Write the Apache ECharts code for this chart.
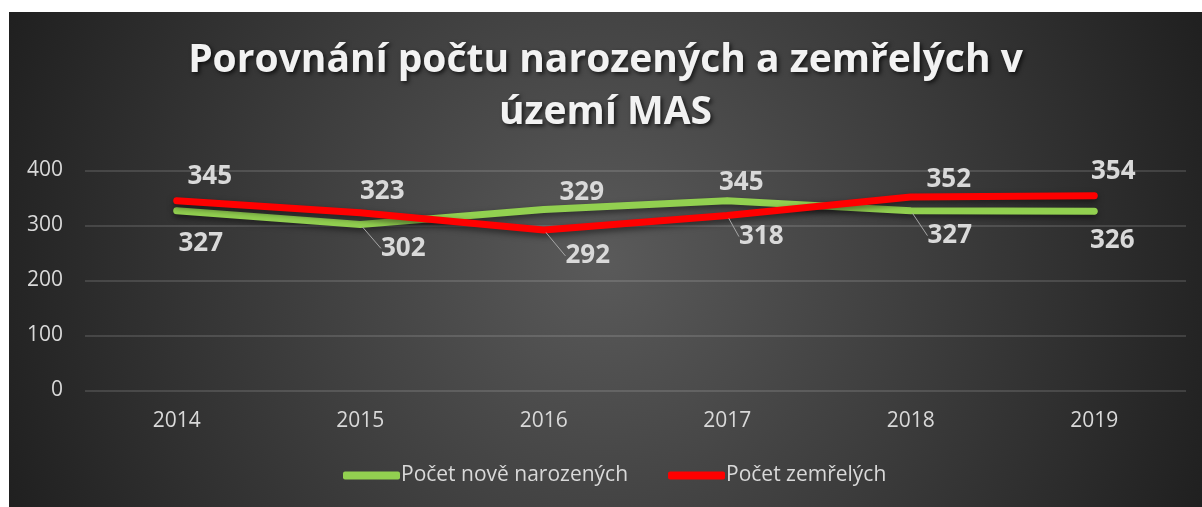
<!DOCTYPE html>
<html>
<head>
<meta charset="utf-8">
<script src="https://cdn.jsdelivr.net/npm/echarts@6/dist/echarts.min.js"></script>
<style>
html, body { margin: 0; padding: 0; background: #ffffff; }
#main { position: absolute; left: 9px; top: 12px; width: 1193px; height: 495px; }
</style>
</head>
<body>
<div id="main"></div>
<script>
var years = ['2014', '2015', '2016', '2017', '2018', '2019']
var births = [327, 302, 329, 345, 327, 326]
var deaths = [345, 323, 292, 318, 352, 354]
var yTicks = [0, 100, 200, 300, 400]

// label placement (label centre relative to point), leader = draw guide line
var birthsLabelPos = [[24, 33], [43, 24], [38, -17], [14, -18], [39, 25], [18, 29]]
var birthsLeader = [false, true, false, false, true, false]
var deathsLabelPos = [[33, -24], [22, -21], [44, 26], [34, 21], [38, -17], [19, -24]]
var deathsLeader = [false, false, true, true, false, false]

var labelFont = { fontFamily: 'Open Sans', fontWeight: 'bold', fontSize: 26, color: '#d9d9d9' }

function buildData (values, leader) {
  return values.map(function (v, i) {
    var item = { value: v }
    if (leader[i]) {
      item.labelLine = { show: true }
    }
    return item
  })
}

function buildLayout (pos) {
  return function (params) {
    var i = params.dataIndex
    return { dx: pos[i][0], dy: pos[i][1] }
  }
}

var chartDom = document.getElementById('main')
var myChart = echarts.init(chartDom)
var option = {
  backgroundColor: {
    type: 'radial',
    x: 0.5,
    y: 0.5,
    r: 1.3,
    colorStops: [
      { offset: 0, color: '#5a5a5a' },
      { offset: 1, color: '#202020' }
    ]
  },
  title: {
    text: 'Porovnání počtu narozených a zemřelých v\núzemí MAS',
    left: 'center',
    top: 18,
    textStyle: {
      fontFamily: 'Open Sans',
      fontWeight: 'bold',
      fontSize: 39,
      lineHeight: 52,
      color: '#f2f2f2',
      textShadowColor: 'rgba(0,0,0,0.7)',
      textShadowBlur: 4,
      textShadowOffsetX: 2,
      textShadowOffsetY: 2
    }
  },
  legend: {
    bottom: 16,
    left: 329,
    itemWidth: 57,
    itemHeight: 8,
    itemGap: 40,
    icon: 'roundRect',
    textStyle: { fontFamily: 'Open Sans', fontSize: 21, color: '#d9d9d9', padding: [0, 0, 0, -4] },
    data: ['Počet nově narozených', 'Počet zemřelých']
  },
  grid: { left: 76, right: 16, top: 158.5, bottom: 116.5 },
  xAxis: {
    type: 'category',
    data: years,
    boundaryGap: true,
    axisLine: { show: false },
    axisTick: { show: false },
    axisLabel: { fontFamily: 'Open Sans', fontSize: 21, color: '#d9d9d9', margin: 20 }
  },
  yAxis: {
    type: 'value',
    min: yTicks[0],
    max: yTicks[yTicks.length - 1],
    interval: 100,
    axisLine: { show: false },
    axisTick: { show: false },
    axisLabel: { fontFamily: 'Open Sans', fontSize: 21, color: '#d9d9d9', margin: 22 },
    splitLine: { lineStyle: { color: 'rgba(255,255,255,0.13)', width: 2 } }
  },
  series: [
    {
      name: 'Počet nově narozených',
      type: 'line',
      data: buildData(births, birthsLeader),
      symbol: 'circle',
      symbolSize: 6,
      itemStyle: { color: '#92d050' },
      lineStyle: {
        color: '#92d050', width: 7, cap: 'round', join: 'round',
        shadowColor: 'rgba(0,0,0,0.5)', shadowBlur: 6, shadowOffsetY: 3
      },
      label: Object.assign({ show: true, position: 'inside' }, labelFont),
      labelLine: { show: false, lineStyle: { color: '#a6a6a6', width: 1 } },
      labelLayout: buildLayout(birthsLabelPos),
      z: 2
    },
    {
      name: 'Počet zemřelých',
      type: 'line',
      data: buildData(deaths, deathsLeader),
      symbol: 'circle',
      symbolSize: 6,
      itemStyle: { color: '#ff0000' },
      lineStyle: {
        color: '#ff0000', width: 7, cap: 'round', join: 'round',
        shadowColor: 'rgba(0,0,0,0.5)', shadowBlur: 6, shadowOffsetY: 3
      },
      label: Object.assign({ show: true, position: 'inside' }, labelFont),
      labelLine: { show: false, lineStyle: { color: '#a6a6a6', width: 1 } },
      labelLayout: buildLayout(deathsLabelPos),
      z: 3
    }
  ]
}
option && myChart.setOption(option)
</script>
</body>
</html>
